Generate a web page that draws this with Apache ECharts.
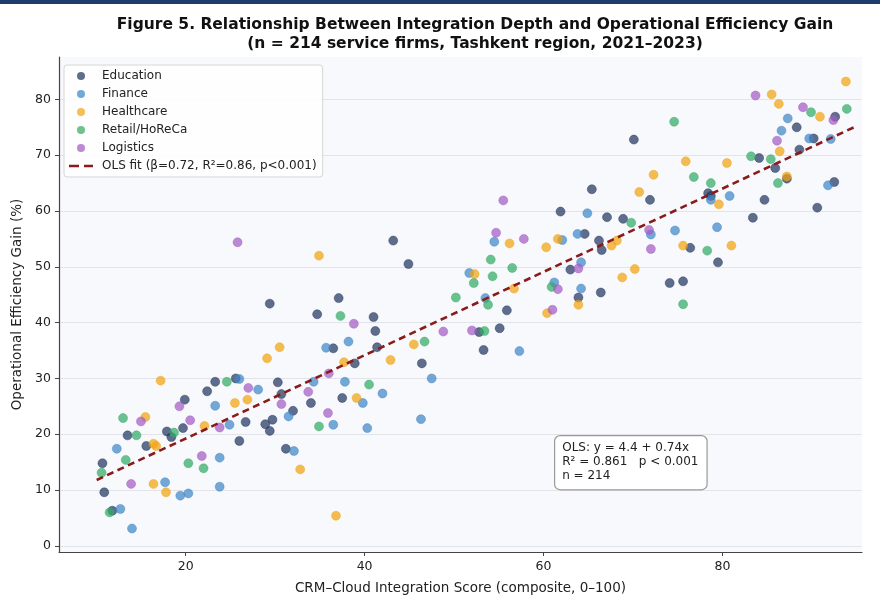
<!DOCTYPE html>
<html>
<head>
<meta charset="utf-8">
<script src="https://cdn.jsdelivr.net/npm/echarts@6/dist/echarts.min.js"></script>
<style>html,body{margin:0;padding:0;background:#fff}#c{width:880px;height:595px}</style>
</head>
<body>
<div id="c"></div>
<script>
const categories = ['Education', 'Finance', 'Healthcare', 'Retail/HoReCa', 'Logistics'];
const xTicks = [20, 40, 60, 80];
const yTicks = [0, 10, 20, 30, 40, 50, 60, 70, 80];

const education = [[23.3,29.4],[25.6,30.0],[22.4,27.7],[19.9,26.2],[19.7,21.1],[17.9,20.5],[18.4,19.5],[26.7,22.2],[26.0,18.8],[13.5,19.8],[15.6,17.9],[10.7,14.8],[10.9,9.6],[11.8,6.3],[28.9,21.8],[29.4,20.6],[29.7,22.6],[31.2,17.4],[43.2,54.7],[44.9,50.5],[29.4,43.4],[37.1,44.4],[34.7,41.5],[41.0,41.0],[41.2,38.5],[36.5,35.4],[41.4,35.6],[38.9,32.7],[46.4,32.7],[30.3,29.3],[30.7,27.2],[34.0,25.6],[37.5,26.5],[32.0,24.2],[71.9,62.0],[65.4,63.9],[61.9,59.9],[67.1,58.9],[68.9,58.6],[64.6,55.9],[66.2,54.7],[66.5,53.0],[63.0,49.5],[74.1,47.1],[63.9,44.5],[66.4,45.4],[55.9,42.2],[52.8,38.3],[55.1,39.0],[53.3,35.1],[92.6,76.9],[88.3,75.0],[90.2,73.0],[88.6,71.0],[84.1,69.5],[85.9,67.7],[87.2,65.8],[92.5,65.2],[78.4,63.2],[78.7,62.7],[84.7,62.0],[83.4,58.8],[90.6,60.6],[76.4,53.4],[79.5,50.8],[75.6,47.4],[70.1,72.8]];
const finance = [[26.0,29.9],[28.1,28.0],[23.3,25.1],[24.9,21.7],[12.3,17.4],[17.7,11.4],[19.4,9.0],[20.3,9.4],[12.7,6.6],[14.0,3.1],[23.8,15.8],[23.8,10.6],[32.1,17.0],[35.7,35.5],[38.2,36.6],[47.5,30.0],[34.3,29.4],[37.8,29.4],[42.0,27.3],[39.8,25.6],[31.5,23.2],[36.5,21.7],[40.3,21.1],[46.3,22.7],[64.9,59.6],[54.5,54.5],[62.1,54.8],[63.8,55.9],[72.0,55.8],[51.7,48.9],[64.2,50.8],[61.2,47.2],[64.2,46.1],[53.5,44.4],[57.3,34.9],[87.3,76.6],[86.6,74.4],[89.7,73.0],[92.1,72.9],[91.8,64.6],[78.7,62.0],[80.8,62.7],[74.7,56.5],[79.4,57.1]];
const healthcare = [[17.2,29.6],[25.5,25.6],[26.9,26.2],[15.5,23.1],[22.1,21.5],[16.4,18.3],[16.7,17.9],[16.4,11.1],[17.8,9.6],[32.8,13.7],[34.9,52.0],[30.5,35.6],[29.1,33.6],[37.7,32.9],[42.9,33.3],[45.5,36.1],[39.1,26.5],[36.8,5.4],[72.3,66.5],[70.7,63.4],[56.2,54.2],[60.3,53.5],[61.6,55.0],[68.2,54.7],[67.6,53.8],[52.3,48.7],[70.2,49.6],[68.8,48.1],[56.7,46.1],[63.9,43.2],[60.4,41.7],[93.8,83.2],[85.5,80.9],[86.3,79.2],[90.9,76.9],[86.4,70.7],[75.9,68.9],[80.5,68.6],[87.2,66.2],[79.6,61.2],[75.6,53.8],[81.0,53.8]];
const retail = [[24.6,29.4],[13.0,22.9],[18.7,20.3],[14.5,19.8],[13.3,15.4],[10.6,13.1],[11.5,6.0],[20.3,14.8],[22.0,13.9],[37.3,41.2],[46.7,36.6],[50.2,44.5],[40.5,28.9],[34.9,21.4],[69.8,57.9],[54.1,51.3],[56.5,49.8],[52.2,47.1],[54.3,48.3],[60.9,46.4],[53.8,43.2],[53.4,38.5],[89.9,77.7],[93.9,78.3],[74.6,76.0],[83.2,69.8],[85.4,69.3],[76.8,66.1],[78.7,65.0],[86.2,65.0],[78.3,52.9],[75.6,43.3]];
const logistics = [[27.0,28.3],[19.3,25.0],[15.0,22.3],[20.5,22.5],[23.8,21.2],[13.9,11.1],[21.8,16.1],[38.8,39.8],[48.8,38.4],[30.7,25.4],[33.7,27.6],[36.0,30.9],[35.9,23.8],[55.5,61.9],[54.7,56.1],[57.8,55.0],[71.8,56.6],[72.0,53.2],[63.9,49.7],[61.6,46.0],[61.0,42.3],[52.0,38.6],[83.7,80.7],[89.0,78.6],[92.4,76.3],[86.1,72.6],[25.8,54.4]];
const olsFit = [[10.05,11.8],[94.7,75.0]];
const olsName = 'OLS fit (β=0.72, R²=0.86, p<0.001)';
const annotationLines = ['OLS: y = 4.4 + 0.74x', 'R² = 0.861   p < 0.001', 'n = 214'];

const colors = ['#23365f', '#3f86c8', '#f1a410', '#33ab67', '#a45bc4'];
const groups = [education, finance, healthcare, retail, logistics];
const FONT = 'DejaVu Sans';

const scatterSeries = groups.map((d, i) => ({
  name: categories[i],
  type: 'scatter',
  data: d,
  symbolSize: 9,
  itemStyle: { color: colors[i], opacity: 0.72, borderColor: colors[i], borderWidth: 0.6 },
  z: 3
}));

const legendData = categories.map(n => ({ name: n, icon: 'circle' })).concat([
  { name: olsName, icon: 'path://M0 0H10V2.6H0Z M15 0H24V2.6H15Z' }
]);

const chart = echarts.init(document.getElementById('c'), null, { renderer: 'canvas' });
chart.setOption({
  animation: false,
  backgroundColor: '#ffffff',
  title: {
    text: 'Figure 5. Relationship Between Integration Depth and Operational Efficiency Gain\n(n = 214 service firms, Tashkent region, 2021–2023)',
    left: 470, top: 10, textAlign: 'center',
    textStyle: { fontFamily: FONT, fontSize: 15.5, fontWeight: 'bold', color: '#111', lineHeight: 19.5 }
  },
  grid: { left: 59, right: 18, top: 57, bottom: 43, show: true, backgroundColor: '#f8f9fc', borderWidth: 0,
    containLabel: false, outerBoundsMode: 'none' },
  legend: {
    orient: 'vertical', left: 64, top: 65,
    data: legendData,
    backgroundColor: 'rgba(255,255,255,0.85)', borderColor: '#d6d6d6', borderWidth: 1, borderRadius: 3,
    padding: [4, 6, 4, 5], itemWidth: 24, itemHeight: 8, itemGap: 4,
    itemStyle: { borderWidth: 0 },
    textStyle: { fontFamily: FONT, fontSize: 12, color: '#222', lineHeight: 14, padding: [0, 0, 0, 4] }
  },
  xAxis: {
    type: 'value', min: 5.84, max: 95.6,
    name: 'CRM–Cloud Integration Score (composite, 0–100)', nameLocation: 'middle', nameGap: 29,
    nameTextStyle: { fontFamily: FONT, fontSize: 13.5, color: '#222' },
    axisLine: { show: true, onZero: false, lineStyle: { color: '#444', width: 1.2 } },
    axisTick: { show: true, length: 4, customValues: xTicks, lineStyle: { color: '#444' } },
    axisLabel: { customValues: xTicks, fontFamily: FONT, fontSize: 12.5, color: '#222', margin: 8 },
    splitLine: { show: false }
  },
  yAxis: {
    type: 'value', min: -1.1, max: 87.6,
    name: 'Operational Efficiency Gain (%)', nameLocation: 'middle', nameGap: 34,
    nameTextStyle: { fontFamily: FONT, fontSize: 13.5, color: '#222' },
    axisLine: { show: true, onZero: false, lineStyle: { color: '#444', width: 1.2 } },
    axisTick: { show: true, length: 4, customValues: yTicks, lineStyle: { color: '#444' } },
    axisLabel: { customValues: yTicks, fontFamily: FONT, fontSize: 12.5, color: '#222', margin: 8 },
    splitLine: { show: true, lineStyle: { color: '#e3e4ea', width: 1 } }
  },
  series: scatterSeries.concat([{
    name: olsName, type: 'line', data: olsFit, symbol: 'none', showSymbol: false,
    lineStyle: { color: '#8b1a1a', width: 2.6, type: [7, 4.5] },
    itemStyle: { color: '#8b1a1a' }, z: 4
  }]),
  graphic: [
    { type: 'rect', left: 0, top: 0, shape: { width: 880, height: 4 }, style: { fill: '#1c3b6e' }, z: 10 },
    { type: 'text', left: 554, top: 435, z: 10,
      style: { text: annotationLines.join('\n'), fontFamily: FONT, fontSize: 12, lineHeight: 14, fill: '#222',
        backgroundColor: '#ffffff', borderColor: '#999', borderWidth: 1.2, borderRadius: 5, padding: [5, 8, 6, 7] } }
  ]
});
</script>
</body>
</html>
